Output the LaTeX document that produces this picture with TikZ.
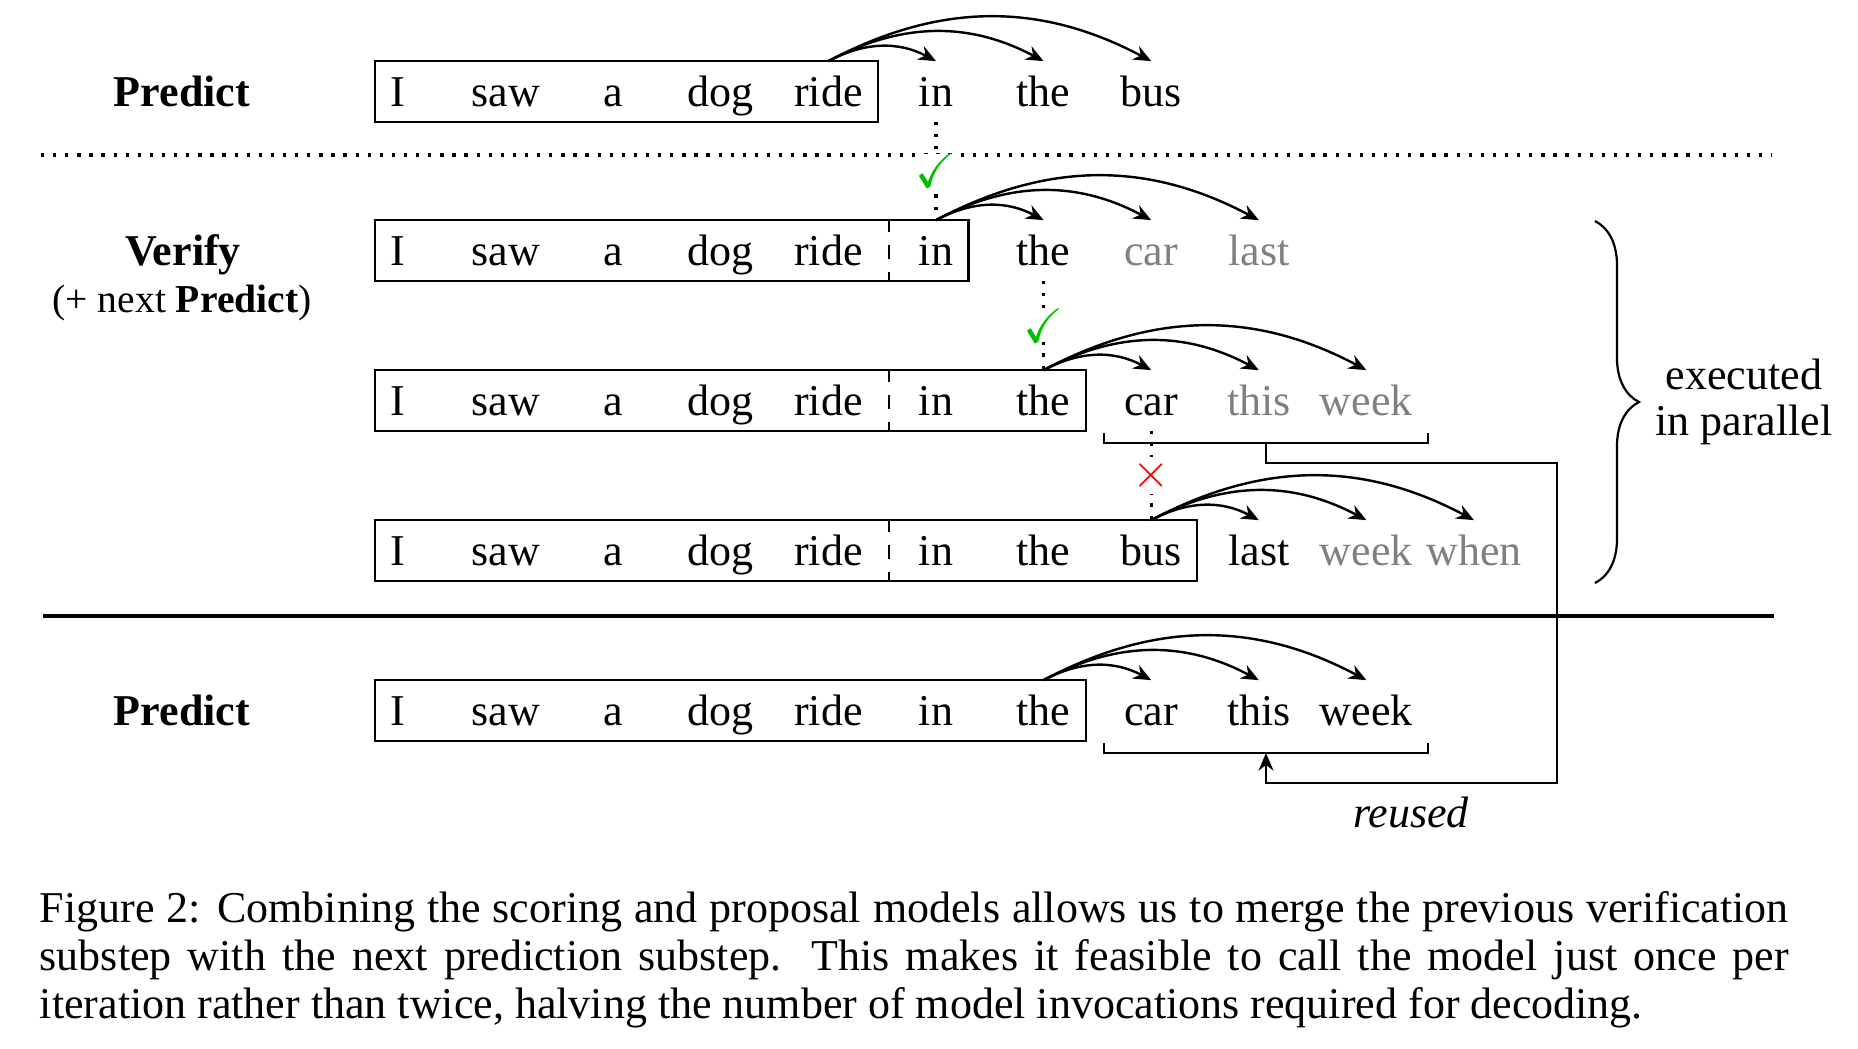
\documentclass[tikz,border=0pt]{standalone}
\usepackage{fontspec}
\setmainfont{Liberation Serif}
\usepackage{amssymb}
\usetikzlibrary{fit,arrows.meta,decorations.pathreplacing,calc}
\definecolor{okgreen}{RGB}{0,190,0}
\definecolor{faded}{RGB}{128,128,128}
\begin{document}
\begin{tikzpicture}[x=0.2273pt,y=0.2273pt,
  wd/.style={inner sep=0pt,text height=10pt,text depth=3.4pt,anchor=base,font=\fontsize{10}{12}\selectfont},
  tokbox/.style={draw,line width=0.5pt,inner xsep=3.3pt,inner ysep=0pt},
  arc/.style={line width=0.55pt,-{Stealth[length=4pt,width=3.4pt,inset=1.3pt]},bend left=28},
  vdots/.style={line width=0.75pt,dotted},
  okmark/.style={fill=white,inner sep=0pt,text=okgreen,font=\fontsize{11}{12}\selectfont},
  badmark/.style={fill=white,inner sep=0.6pt,text=red,font=\fontsize{11}{12}\selectfont},
  divider/.style={line width=0.5pt,dashed},
  lbl/.style={anchor=base,font=\fontsize{10}{12}\selectfont},
  plain/.style={line width=0.5pt}
]
\useasboundingbox (0,0) rectangle (1858,-1048);

% ---- labels
\node[lbl,font=\fontsize{10}{12}\selectfont\bfseries] (pred1) at (182,-106) {Predict};
\node[lbl,font=\fontsize{10}{12}\selectfont\bfseries] (verif) at (183,-265) {Verify};
\node[lbl,font=\fontsize{9}{11}\selectfont] (verifnext) at (182,-312) {(+ next \textbf{Predict})};
\node[lbl,font=\fontsize{10}{12}\selectfont\bfseries] (pred2) at (182,-725) {Predict};

% ---- separators
\draw[line width=0.75pt,dotted] (41,-155) -- (1772,-155);
\draw[line width=0.9pt] (43,-616) -- (1774,-616);

% ---- row 1
\foreach \w/\c [count=\i from 0] in {I/black,saw/black,a/black,dog/black,ride/black,in/black,the/black,bus/black}
  \node[wd,text=\c] (r1w\i) at ({398+107.6*\i},-106) {\w};
\node[tokbox,fit=(r1w0)(r1w4)] (box1) {};

% ---- row 2
\foreach \w/\c [count=\i from 0] in {I/black,saw/black,a/black,dog/black,ride/black,in/black,the/black,car/faded,last/faded}
  \node[wd,text=\c] (r2w\i) at ({398+107.6*\i},-265) {\w};
\node[tokbox,fit=(r2w0)(r2w5)] (box2) {};
\draw[divider] (889,0 |- box2.north) -- (889,0 |- box2.south);

% ---- row 3
\foreach \w/\c [count=\i from 0] in {I/black,saw/black,a/black,dog/black,ride/black,in/black,the/black,car/black,this/faded,week/faded}
  \node[wd,text=\c] (r3w\i) at ({398+107.6*\i},-415) {\w};
\node[tokbox,fit=(r3w0)(r3w6)] (box3) {};
\draw[divider] (889,0 |- box3.north) -- (889,0 |- box3.south);

% ---- row 4
\foreach \w/\c [count=\i from 0] in {I/black,saw/black,a/black,dog/black,ride/black,in/black,the/black,bus/black,last/black,week/faded,when/faded}
  \node[wd,text=\c] (r4w\i) at ({398+107.6*\i},-565) {\w};
\node[tokbox,fit=(r4w0)(r4w7)] (box4) {};
\draw[divider] (889,0 |- box4.north) -- (889,0 |- box4.south);

% ---- row 5
\foreach \w/\c [count=\i from 0] in {I/black,saw/black,a/black,dog/black,ride/black,in/black,the/black,car/black,this/black,week/black}
  \node[wd,text=\c] (r5w\i) at ({398+107.6*\i},-725) {\w};
\node[tokbox,fit=(r5w0)(r5w6)] (box5) {};

% ---- prediction arcs
\foreach \j in {5,6,7} \draw[arc] (r1w4.north) to (r1w\j.north);
\foreach \j in {6,7,8} \draw[arc] (r2w5.north) to (r2w\j.north);
\foreach \j in {7,8,9} \draw[arc] (r3w6.north) to (r3w\j.north);
\foreach \j in {8,9,10} \draw[arc] (r4w7.north) to (r4w\j.north);
\foreach \j in {7,8,9} \draw[arc] (r5w6.north) to (r5w\j.north);

% ---- verification links
\draw[vdots] (r1w5.south) -- node[okmark] (ok1) {$\checkmark$} (r2w5.north);
\draw[vdots] (r2w6.south) -- node[okmark] (ok2) {$\checkmark$} (r3w6.north);
\draw[vdots] (r3w7.south) -- node[badmark] (bad1) {$\times$} (r4w7.north);

% ---- brackets and reuse connector
\coordinate (b3l) at (1104,-433);
\coordinate (b3r) at (1428,-433);
\coordinate (b3m) at (1266,-443);
\coordinate (b5l) at (1104,-743);
\coordinate (b5r) at (1428,-743);
\coordinate (b5m) at (1266,-753);
\coordinate (k1) at (1557,-463);
\coordinate (k2) at (1557,-783);
\draw[plain] (b3l) -- ++(0,-10) -- ($(b3r)+(0,-10)$) -- (b3r);
\draw[plain] (b5l) -- ++(0,-10) -- ($(b5r)+(0,-10)$) -- (b5r);
\draw[plain,-{Stealth[length=4pt,width=3.4pt,inset=1.3pt]}] (b3m) |- (k1) -- (k2) -| (b5m);
\node[lbl,font=\fontsize{10}{12}\selectfont\itshape] (reused) at (1411,-827) {reused};

% ---- brace
\draw[plain,decorate,decoration={brace,amplitude=10pt}] (1595,-221) -- (1595,-583);
\node[align=center,font=\fontsize{10}{10.5}\selectfont,inner sep=0pt] (parallel) at (1744,-402) {executed\\in parallel};

% ---- caption
\node[anchor=base west,inner sep=0pt,text width=397.5pt,align=justify,font=\fontsize{10}{11}\selectfont] (caption) at (39,-922)
{Figure 2: Combining the scoring and proposal models allows us to merge the previous verification\linebreak
substep with the next prediction substep.  This makes it feasible to call the model just once per\linebreak
iteration rather than twice, halving the number of model invocations required for decoding.};
\end{tikzpicture}
\end{document}
